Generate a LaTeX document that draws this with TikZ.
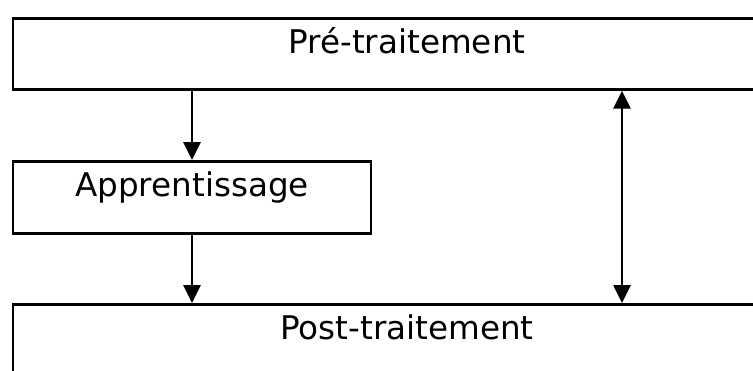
\documentclass[tikz,border=0pt]{standalone}
\usepackage{fontspec}
\setmainfont{DejaVu Sans}
\usetikzlibrary{arrows.meta}
\begin{document}
\begin{tikzpicture}[x=0.5pt,y=-0.5pt,>={Triangle[length=9pt,width=8.5pt]},line width=1.35pt,
    font=\fontsize{16.3pt}{19pt}\selectfont]
      \tikzset{box/.style={draw, anchor=north, inner sep=0pt, text height=17.5pt, text depth=18pt, minimum width=394pt}}
      \useasboundingbox (0,0) rectangle (753,370);
      \clip (0,0) rectangle (753,370);
      \node[box] (pre) at (407,17) {Pré-traitement};
      \node[box, minimum width=179pt, text depth=18.5pt] (app) at (192,160) {Apprentissage};
      \node[box] (post) at (407,303) {Post-traitement};
      \draw[->] (app.north |- pre.south) -- (app.north);
      \draw[->] (app.south) -- (app.south |- post.north);
      \draw[<->] ([xshift=107.5pt]pre.south) -- ([xshift=107.5pt]post.north);
    \end{tikzpicture}
\end{document}
